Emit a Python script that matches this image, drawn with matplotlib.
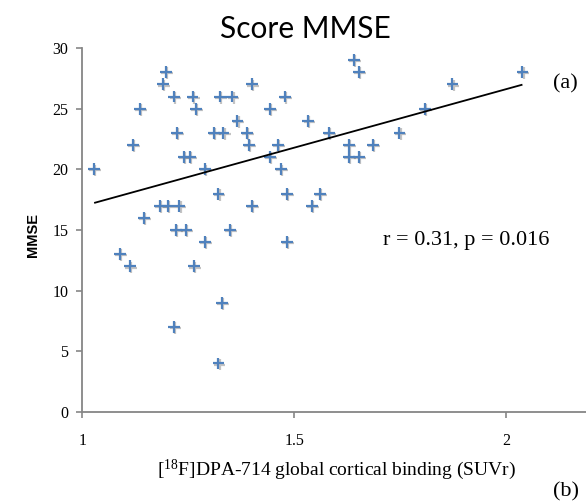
import numpy as np
import matplotlib
matplotlib.use("Agg")
import matplotlib.pyplot as plt
import matplotlib.patheffects as pe

plt.rcParams["mathtext.fontset"] = "custom"
plt.rcParams["mathtext.rm"] = "Liberation Serif"
plt.rcParams["mathtext.it"] = "Liberation Serif:italic"

# Data
suvr = [1.028, 1.089, 1.112, 1.120, 1.136, 1.146, 1.183, 1.190, 1.197, 1.201,
        1.217, 1.217, 1.221, 1.224, 1.229, 1.240, 1.245, 1.254, 1.260, 1.264,
        1.268, 1.289, 1.289, 1.311, 1.321, 1.321, 1.325, 1.329, 1.333, 1.348,
        1.354, 1.366, 1.389, 1.393, 1.400, 1.400, 1.443, 1.443, 1.461, 1.469,
        1.478, 1.482, 1.482, 1.533, 1.541, 1.560, 1.582, 1.629, 1.629, 1.641,
        1.653, 1.653, 1.685, 1.748, 1.808, 1.873, 2.038]
mmse = [20, 13, 12, 22, 25, 16, 17, 27, 28, 17,
        26, 7, 15, 23, 17, 21, 15, 21, 26, 12,
        25, 20, 14, 23, 18, 4, 26, 9, 23, 15,
        26, 24, 23, 22, 27, 17, 25, 21, 22, 20,
        26, 18, 14, 24, 17, 18, 23, 22, 21, 29,
        28, 21, 22, 23, 25, 27, 28]
trend_x = [1.03, 2.036]
trend_y = [17.25, 26.96]

x_ticks = [1, 1.5, 2]
x_tick_labels = ["1", "1.5", "2"]
y_ticks = [0, 5, 10, 15, 20, 25, 30]

W, H = 586, 503
fig = plt.figure(figsize=(W / 100, H / 100), dpi=100)
left = 82.3 / W
bottom = (H - 412) / H
height = (412 - 48) / H
width = 1.2 * 424 / W
ax = fig.add_axes([left, bottom, width, height])

grey = "#868686"
serif = ["Liberation Serif", "DejaVu Serif"]

ax.plot(suvr, mmse, linestyle="none", marker="+", markersize=8.5,
        markeredgewidth=1.6, color="#4F81BD",
        path_effects=[pe.SimpleLineShadow(offset=(0.8, -0.8), shadow_color="#555555", alpha=0.35),
                      pe.Normal()], zorder=3)
ax.plot(trend_x, trend_y, color="black", linewidth=1.3, zorder=4)

ax.set_xlim(1, 2.2)
ax.set_ylim(0, 30)
ax.set_xticks(x_ticks)
ax.set_xticklabels(x_tick_labels)
ax.set_yticks(y_ticks)

for s in ["top", "right"]:
    ax.spines[s].set_visible(False)
for s in ["left", "bottom"]:
    ax.spines[s].set_color(grey)
    ax.spines[s].set_linewidth(1.3)

ax.tick_params(axis="both", direction="out", length=4, width=1.2, color=grey,
               labelsize=11.5)
ax.tick_params(axis="x", pad=11)
ax.tick_params(axis="y", pad=6)
for lab in ax.get_xticklabels() + ax.get_yticklabels():
    lab.set_family(serif)

ax.set_xlabel(r"[$^{18}$F]DPA-714 global cortical binding (SUVr)",
              fontsize=14, family=serif)
ax.xaxis.set_label_coords(0.5, -(470 - 412) / (412 - 48), transform=ax.transAxes)
ax.xaxis.label.set_va("center")
ax.set_ylabel("MMSE", fontsize=10.5, fontweight="bold",
              family=["Liberation Sans", "DejaVu Sans"])
ax.yaxis.set_label_coords(-(82.3 - 33) / (1.2 * 424), (412 - 235) / (412 - 48),
                          transform=ax.transAxes)
ax.yaxis.label.set_va("center")

fig.text(305 / W, 1 - 29 / H, "Score MMSE", fontsize=21.5,
         family=["Lato", "DejaVu Sans"], ha="center", va="center")

fig.text(466 / W, 1 - 240 / H, "r = 0.31, p = 0.016", fontsize=16,
         family=serif, ha="center", va="center")
fig.text(553 / W, 1 - 84 / H, "(a)", fontsize=16, family=serif,
         ha="left", va="center")
fig.text(553 / W, 1 - 492 / H, "(b)", fontsize=16, family=serif,
         ha="left", va="center")

fig.savefig("out.png", dpi=100)
